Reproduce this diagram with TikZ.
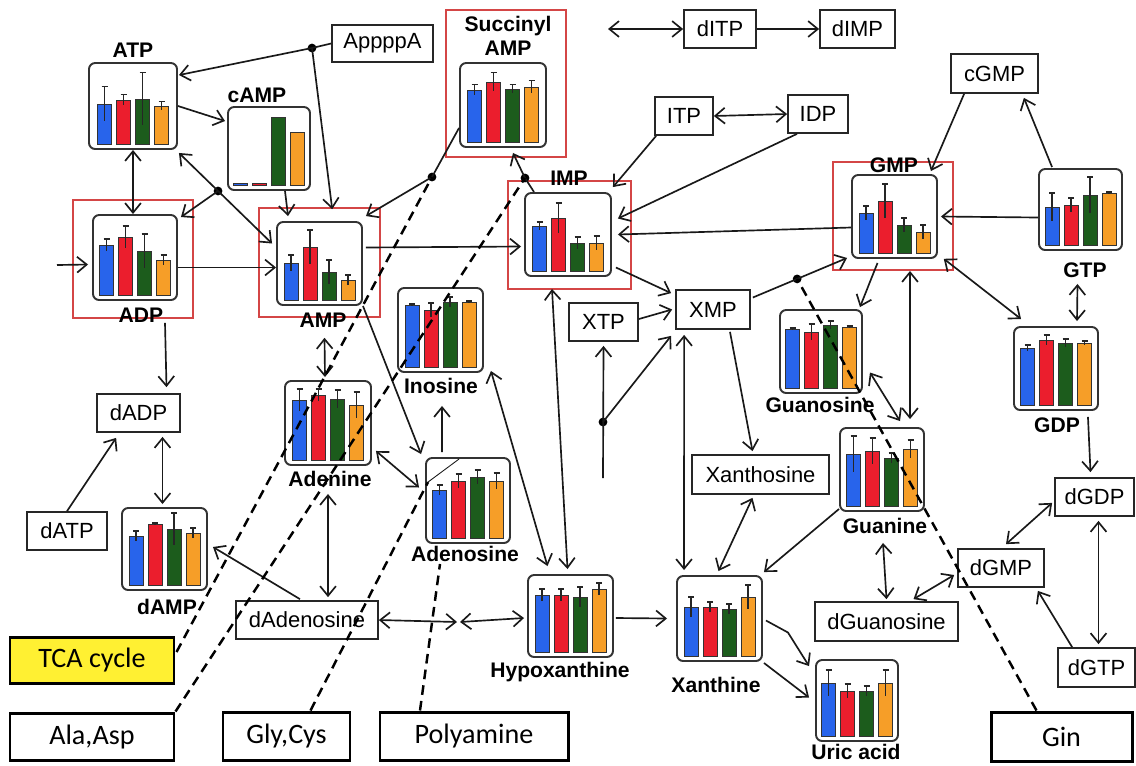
\documentclass[tikz,border=0pt]{standalone}
\usepackage{fontspec}
\setmainfont{Liberation Sans}
\newfontfamily\calib{Carlito}
\usetikzlibrary{arrows.meta,calc,fit}
\definecolor{cblue}{RGB}{40,100,235}
\definecolor{cred}{RGB}{235,30,45}
\definecolor{cgreen}{RGB}{28,92,28}
\definecolor{corange}{RGB}{246,158,40}
\definecolor{cframe}{RGB}{212,70,70}
\definecolor{cyell}{RGB}{255,240,50}
\newcommand{\barone}[4]{%
  \fill[#4] (#1,-6) rectangle ++(14,-#2);
  \draw[barline] (#1,-6) rectangle ++(14,-#2);
  \ifnum#3>0
    \draw[errline] (#1+7,{-6-(2*#2-#3)}) -- (#1+7,-6-#3) (#1+4,-6-#3) -- (#1+10,-6-#3);
  \fi}
\newcommand{\bars}[9]{%
  \begin{scope}[shift={(#1.south)}]
    \barone{-35.5}{#2}{#3}{cblue}
    \barone{-16.5}{#4}{#5}{cred}
    \barone{2.5}{#6}{#7}{cgreen}
    \barone{21.5}{#8}{#9}{corange}
  \end{scope}}
\newcommand{\chartnode}[5]{\node[chart, fit={(#2,#3)(#4,#5)}] (#1) {};}
\newcommand{\boxnode}[7][pbox]{\node[#1, minimum width={(#5-#3)*0.02cm}, minimum height={(#6-#4)*0.02cm}] (#2) at ({(#3+#5)/2},{(#4+#6)/2}) {#7};}
\tikzset{
  chart/.style={draw=black!80, line width=1.1pt, rounded corners=3.5pt, fill=white, inner sep=0pt},
  redframe/.style={draw=cframe, line width=0.9pt, inner sep=0pt},
  pbox/.style={draw=black!85, line width=1pt, fill=white, inner sep=0pt, font=\fontsize{12.5}{14}\selectfont},
  bigbox/.style={draw=black, line width=1.7pt, fill=white, inner sep=0pt, font=\calib\fontsize{16}{18}\selectfont},
  lbl/.style={font=\bfseries\fontsize{12}{13.5}\selectfont, inner sep=0pt, align=center},
  conn/.style={line width=0.95pt, draw=black!90},
  dsh/.style={line width=1.4pt, draw=black, dash pattern=on 5.5pt off 3.5pt},
  dot/.style={circle, fill=black, inner sep=0pt, minimum size=5pt},
  barline/.style={draw=black!80, line width=0.5pt},
  errline/.style={draw=black!85, line width=0.6pt},
  >={Straight Barb[length=5.5pt,width=9pt]}
}
\begin{document}
\begin{tikzpicture}[x=0.02cm,y=-0.02cm]
\fill[white] (0,0) rectangle (1136,765);
\useasboundingbox (0,0) rectangle (1136,765);
% red frames
\node[redframe, fit={(73,200)(193,318)}] (adpf) {};
\node[redframe, fit={(259,208)(380,317)}] (ampf) {};
\node[redframe, fit={(446,10)(566,157)}] (sucf) {};
\node[redframe, fit={(508,181)(631,289)}] (impf) {};
\node[redframe, fit={(833,162)(953,270)}] (gmpf) {};
% chart boxes
\chartnode{atp}{89}{63}{177}{149}
\chartnode{camp}{228}{107}{310}{190}
\chartnode{adp}{93}{215}{177}{300}
\chartnode{amp}{277}{222}{362}{305}
\chartnode{suc}{460}{63}{546}{147}
\chartnode{imp}{525}{193}{611}{276}
\chartnode{gmp}{852}{175}{937}{258}
\chartnode{gtp}{1039}{169}{1122}{250}
\chartnode{gdp}{1014}{327}{1098}{410}
\chartnode{ino}{398}{288}{483}{372}
\chartnode{ade}{285}{381}{371}{465}
\chartnode{ados}{426}{458}{510}{543}
\chartnode{damp}{122}{508}{207}{590}
\chartnode{guo}{780}{310}{862}{393}
\chartnode{gua}{840}{428}{924}{511}
\chartnode{hyp}{528}{575}{613}{657}
\chartnode{xan}{677}{576}{762}{661}
\chartnode{uric}{816}{660}{898}{741}
% bars
\bars{atp}{40}{57}{44}{49}{45}{71}{38}{42}
\bars{camp}{1.5}{0}{1.5}{0}{68}{0}{53}{0}
\bars{adp}{50}{56}{58}{69}{44}{61}{35}{40}
\bars{amp}{37}{45}{53}{70}{28}{40}{20}{25}
\bars{suc}{52}{57}{60}{69}{53}{57}{55}{61}
\bars{imp}{45}{49}{53}{68}{28}{34}{28}{35}
\bars{gmp}{40}{47}{52}{69}{28}{35}{21}{28}
\bars{gtp}{38}{52}{40}{47}{50}{68}{52}{53}
\bars{gdp}{57}{60}{65}{70}{62}{66}{62}{64}
\bars{ino}{62}{63}{57}{64}{65}{70}{65}{66}
\bars{ade}{60}{71}{65}{71}{61}{70}{55}{68}
\bars{ados}{48}{53}{57}{64}{61}{68}{57}{65}
\bars{damp}{49}{54}{61}{62}{56}{72}{52}{57}
\bars{guo}{59}{60}{56}{64}{63}{67}{61}{62}
\bars{gua}{52}{70}{55}{68}{48}{53}{57}{66}
\bars{hyp}{57}{63}{57}{63}{55}{65}{63}{69}
\bars{xan}{49}{59}{49}{54}{47}{52}{59}{71}
\bars{uric}{53}{66}{45}{52}{45}{50}{53}{66}
% plain boxes
\boxnode{apa}{332}{25}{433}{62}{AppppA}
\boxnode{ditp}{684}{10}{756}{48}{dITP}
\boxnode{dimp}{820}{10}{895}{48}{dIMP}
\boxnode{itp}{655}{97}{713}{135}{ITP}
\boxnode{idp}{788}{95}{848}{133}{IDP}
\boxnode{cgmp}{951}{54}{1038}{93}{cGMP}
\boxnode{xtp}{569}{303}{638}{341}{XTP}
\boxnode{xmp}{676}{290}{750}{329}{XMP}
\boxnode{xao}{692}{455}{829}{494}{Xanthosine}
\boxnode{dadp}{97}{394}{180}{432}{dADP}
\boxnode{datp}{27}{512}{107}{550}{dATP}
\boxnode{dado}{236}{601}{378}{639}{dAdenosine}
\boxnode{dgdp}{1055}{478}{1134}{516}{dGDP}
\boxnode{dgmp}{958}{549}{1044}{587}{dGMP}
\boxnode{dguo}{815}{602}{958}{641}{dGuanosine}
\boxnode{dgtp}{1058}{648}{1135}{687}{dGTP}
\boxnode[bigbox, fill=cyell]{tca}{10}{637}{174}{683}{TCA cycle}
\boxnode[bigbox]{ala}{10}{713}{174}{760}{Ala,Asp}
\boxnode[bigbox]{gly}{223}{712}{350}{760}{Gly,Cys}
\boxnode[bigbox]{poly}{380}{712}{568}{760}{Polyamine}
\boxnode[bigbox]{gin}{991}{712}{1132}{761}{Gin}
% dots
\node[dot] (dA) at (312,48) {};
\node[dot] (dS) at (432,177) {};
\node[dot] (dI) at (525,178) {};
\coordinate (aA) at ($(atp.south east)+(1,3)$);
\coordinate (aB) at ($(amp.west)+(-4,-20)$);
\node[dot] (dAT) at ($(aA)!0.42!(aB)$) {};
\coordinate (xgA) at ($(xmp.east)+(2,-12)$);
\coordinate (xgB) at ($(gmp.south west)+(-4,-1)$);
\node[dot] (dX) at ($(xgA)!0.47!(xgB)$) {};
\node[dot] (xd) at (603,422) {};
\coordinate (xin) at (603,478);
\coordinate (inA) at (57,265);
\coordinate (mid) at (458.5,622);
\coordinate (ditpL) at (608,29);
% connectors
\draw[conn,->] (apa.west) -- (dA.center) -- ($(atp.north east)+(1,13)$);
\draw[conn,->] (dA.center) -- ($(ampf.north west)+(74,2)$);
\draw[conn,->] (atp.east) -- ($(camp.north west)+(-2,15)$);
\draw[conn,<->] (atp.south) -- (atp.south |- adp.north);
\draw[conn,<->] (aA) -- (aB);
\draw[conn,->] (dAT.center) -- ($(adp.north east)+(3,3)$);
\draw[conn,->] ($(camp.south)+(16,0)$) -- ($(amp.north west)+(12,-5)$);
\draw[conn,->] ($(suc.south west)+(0,-20)$) -- (dS.center) -- ($(amp.north east)+(3,-5)$);
\draw[conn,->] ($(adp.east)+(0,10)$) -- ($(amp.west)+(0,4)$);
\draw[conn,->] (inA) -- ($(adp.west)+(-4,7)$);
\draw[conn,->] ($(amp.east)+(3,-16)$) -- ($(imp.west)+(-3,12)$);
\draw[conn,->] ($(adpf.south)+(32,4)$) -- ($(dadp.north)+(28,-6)$);
\draw[conn,->] (datp.north) -- ($(dadp.south west)+(20,5)$);
\draw[conn,<->] ($(dadp.south)+(24,4)$) -- ($(damp.north)+(-2,-3)$);
\draw[conn,->] ($(dado.north)+(-7,-1)$) -- ($(damp.east)+(5,-2)$);
\draw[conn,<->] ($(ade.south)+(0,28)$) -- ($(dado.north)+(21,-3)$);
\draw[conn,<->] ($(ampf.south)+(5,20)$) -- ($(ade.north)+(-3,-3)$);
\draw[conn,->] (amp.south east) -- ($(ados.north west)+(-4,-3)$);
\draw[conn,<->] ($(ade.south east)+(4,-15)$) -- ($(ados.west)+(-6,-13)$);
\draw[conn,->] ($(ados.north)+(-26,-5)$) -- ($(ino.south)+(1.5,33)$);
\draw[conn,<->] ($(ino.south east)+(7,-2)$) -- ($(hyp.north)+(-23,-8)$);
\draw[conn,<->] ($(imp.south)+(-16,12)$) -- ($(hyp.north)+(-3,-5)$);
\draw[conn,->] ($(imp.north west)+(10,0)$) -- (dI.center) -- ($(suc.south)+(10,5)$);
\draw[conn,->] ($(itp.south west)+(2,0)$) -- ($(imp.north east)+(1,-5)$);
\draw[conn,->] ($(idp.south)+(-21,0)$) -- ($(imp.east)+(6,-16)$);
\draw[conn,<->] (itp.east) -- (idp.west);
\draw[conn,->] ($(gmp.west)+(0,11)$) -- ($(imp.east)+(6,0)$);
\draw[conn,->] ($(gtp.west)+(0,8)$) -- ($(gmp.east)+(3,0)$);
\draw[conn,->] ($(cgmp.south west)+(14,0)$) -- ($(gmp.north east)+(-7,-3)$);
\draw[conn,->] ($(gtp.north west)+(14,-1)$) -- ($(cgmp.south east)+(-15,4)$);
\draw[conn,<->] ($(gtp.south)+(-3,33)$) -- ($(gdp.north)+(21,-5)$);
\draw[conn,<->] ($(gmpf.south east)+(-10,-12)$) -- ($(gdp.north west)+(8,-7)$);
\draw[conn,->] ($(gmp.south)+(-17,4)$) -- ($(guo.north east)+(-3,-2)$);
\draw[conn,<->] ($(gmp.south)+(15.5,12)$) -- ($(gua.north)+(28,-8)$);
\draw[conn,<->] ($(guo.east)+(7,21)$) -- ($(gua.north)+(18,-6)$);
\draw[conn,->] ($(gdp.south east)+(-11,6)$) -- ($(dgdp.north)+(-4,-5)$);
\draw[conn,<->] ($(dgdp.south west)+(-2,-14)$) -- ($(dgmp.north)+(5,-4)$);
\draw[conn,<->] ($(dgdp.south)+(4,4)$) -- ($(dgtp.north)+(2,-3)$);
\draw[conn,->] ($(dgtp.north west)+(15,0)$) -- ($(dgmp.south east)+(-7,3)$);
\draw[conn,<->] ($(dgmp.west)+(-3,7)$) -- ($(dguo.north)+(27,-2)$);
\draw[conn,<->] ($(gua.south)+(1,31)$) -- ($(dguo.north)+(0,-2)$);
\draw[conn,->] ($(gua.south west)+(0,-3)$) -- ($(xan.north east)+(1,-3)$);
\draw[conn,<->] ($(xao.south)+(-8,3)$) -- ($(xan.north)+(-1,-4)$);
\draw[conn,->] ($(xmp.south)+(17,2)$) -- ($(xao.north)+(-8,-3)$);
\draw[conn,<->] ($(xmp.south west)+(9,5)$) -- ($(xan.north west)+(8,-5)$);
\draw[conn,->] ($(imp.east)+(4,33)$) -- ($(xmp.north west)+(-4,4)$);
\draw[conn,->] ($(xtp.east)+(0,-3)$) -- ($(xmp.west)+(-3,0)$);
\draw[conn,->] (xin) -- ($(xtp.south)+(0,4)$);
\draw[conn,->] (xd.center) -- ($(xmp.south west)+(-4,6)$);
\draw[conn,->] (xgA) -- (xgB);
\draw[conn,->] ($(hyp.east)+(2,2)$) -- ($(xan.west)+(-9,0)$);
\draw[conn,->] ($(xan.east)+(3,2)$) -- ++(22,12) -- ($(uric.north west)+(-6,7)$);
\draw[conn,->] ($(xan.south east)+(1,1)$) -- ($(uric.west)+(-6,-3)$);
\draw[conn,<->] (dado.east) -- ($(mid)+(-1.5,0)$);
\draw[conn,<->] ($(mid)+(1.5,0)$) -- ($(hyp.west)+(-3,2)$);
\draw[conn,<->] (ditpL) -- (ditp.west);
\draw[conn,->] (ditp.east) -- (dimp.west);
% dashed links
\draw[dsh] ($(tca.east)+(1,-8)$) -- (dS.center);
\draw[dsh] (ala.north east) -- (dI.center);
\coordinate (gE) at ($(ados.north west)+(3,25)$);
\draw[dsh] ($(gly.north)+(24,0)$) -- (gE);
\draw[conn, line width=0.5pt] (gE) -- ($(ados.north west)+(34,2)$);
\draw[dsh] ($(poly.north)+(-54,0)$) -- ($(ados.south)+(-28,20)$);
\draw[dsh] ($(gin.north)+(-25,0)$) -- (dX.center);
% labels
\node[lbl] (latp) at (133,50) {ATP};
\node[lbl] (lcamp) at (257,95) {cAMP};
\node[lbl] (ladp) at (141,315) {ADP};
\node[lbl] (lamp) at (323,320) {AMP};
\node[lbl] (lsuc) at (508,36) {Succinyl\\AMP};
\node[lbl] (limp) at (569,178) {IMP};
\node[lbl] (lgmp) at (894,165) {GMP};
\node[lbl] (lgtp) at (1085,270) {GTP};
\node[lbl] (lgdp) at (1057,425) {GDP};
\node[lbl] (lino) at (441,386) {Inosine};
\node[lbl] (lade) at (330,479) {Adenine};
\node[lbl] (lados) at (465,554) {Adenosine};
\node[lbl] (ldamp) at (167,607) {dAMP};
\node[lbl] (lguo) at (820,405) {Guanosine};
\node[lbl] (lgua) at (885,526) {Guanine};
\node[lbl] (lhyp) at (560,672) {Hypoxanthine};
\node[lbl] (lxan) at (716,685) {Xanthine};
\node[lbl] (luric) at (856,752) {Uric acid};
\end{tikzpicture}
\end{document}
